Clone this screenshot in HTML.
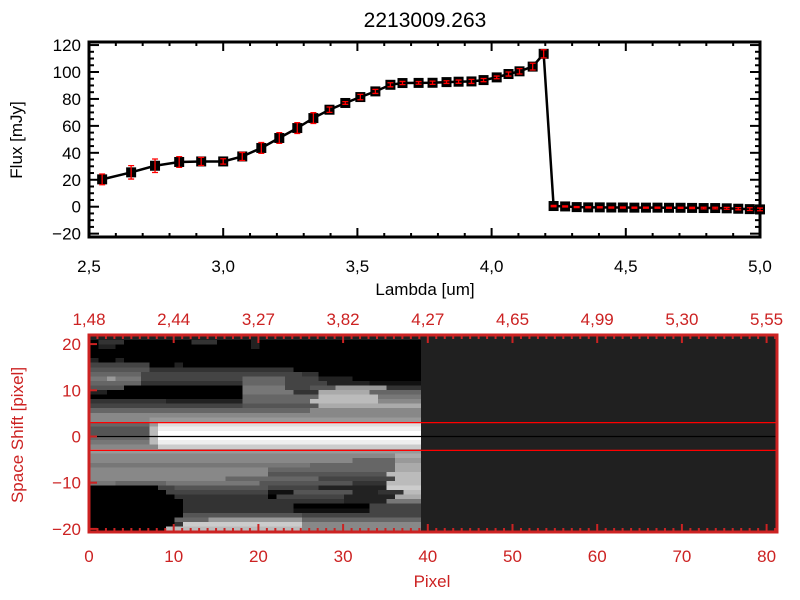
<!DOCTYPE html>
<html><head><meta charset="utf-8"><style>
body{margin:0;background:#fff;}
svg{display:block;font-family:"Liberation Sans",sans-serif;}
</style></head><body>
<svg id="c" width="800" height="600" viewBox="0 0 800 600">
<text x="425" y="27" text-anchor="middle" font-size="21">2213009.263</text>
<g id="top"></g>
<g id="bot"></g>
</svg>
<script>
// ---- spectrum data ----
const lambda = [2.549,2.657,2.746,2.836,2.918,3.0,3.071,3.142,3.209,3.276,3.336,3.396,3.455,3.511,3.567,3.623,
 3.668,3.728,3.78,3.832,3.877,3.925,3.97,4.019,4.063,4.104,4.153,4.194,
 4.231,4.274,4.317,4.36,4.403,4.446,4.489,4.532,4.575,4.618,4.661,4.704,4.747,4.79,4.833,4.876,4.919,4.962,5.0];
const flux = [20.3,25.5,30.4,33.2,33.6,33.6,37.3,43.6,51,58.4,65.8,72,77,81.4,85.6,90.5,
 91.8,91.9,92,92.5,92.8,93,94,96,98.5,100.5,104,113.5,
 0.5,0.2,-0.3,-0.5,-0.5,-0.6,-0.6,-0.7,-0.7,-0.7,-0.8,-0.8,-0.9,-1,-1,-1.2,-1.5,-1.8,-2];
const fluxErr = [4,5,5,4,3,2,3,4,4,4,4,2,1,2,1.5,1.5,
 1.2,1,1.2,1,1.2,1.5,1.2,1,1.5,2,2.5,3,
 0.5,0.4,0.4,0.4,0.4,0.4,0.4,0.4,0.4,0.4,0.4,0.4,0.5,0.6,0.6,0.7,0.8,1,1];
const xTicks = [2.5,3.0,3.5,4.0,4.5,5.0];
const xTickLabels = ["2,5","3,0","3,5","4,0","4,5","5,0"];
const yTicks = [-20,0,20,40,60,80,100,120];
// ---- image data (hex gray levels, run-length "count*level") ----
const imgRows = [
"1*0 3*3 8*0 3*3 4*0 1*2 19*0","1*0 2*2 16*0 1*2 19*0","39*0","39*0","1*2 2*0 1*2 35*0",
"7*4 3*0 1*2 28*0","7*5 13*3 4*3 15*0","6*6 19*4 2*3 12*0","2*7 1*9 3*7 12*4 5*6 4*4 4*2 8*0",
"6*6 12*3 5*6 5*4 5*2 6*1","4*5 14*0 5*7 3*4 3*5 6*9 4*3","2*2 16*0 6*7 3*3 6*a 6*6",
"18*0 9*6 7*b 5*7","9*3 9*2 8*6 8*b 5*8","18*4 9*5 12*a","26*6 13*8","39*8","7*8 32*9",
"7*6 1*9 31*d","7*5 1*b 31*e","7*5 1*b 31*f","7*6 1*b 31*f","7*7 1*b 31*e","8*8 31*c",
"39*9","36*8 3*a","31*8 5*6 3*9","26*7 10*6 3*a","21*8 15*6 3*a","21*8 14*5 4*b",
"16*8 11*6 9*4 3*b","3*7 6*6 11*7 11*5 4*3 4*b","8*0 2*4 11*5 6*4 8*2 4*c",
"9*0 12*4 3*1 7*5 3*2 3*3 2*b","10*0 11*3 1*0 8*4 6*2 3*a","11*0 19*3 5*2 4*7",
"11*0 13*3 9*0 6*4","11*0 13*3 9*1 6*4","11*0 14*5 14*4","10*0 4*6 11*9 14*6",
"10*0 1*3 14*c 14*8","9*0 16*b 14*8"];
const pixTicks = [0,10,20,30,40,50,60,70,80];
const lamTopLabels = ["1,48","2,44","3,27","3,82","4,27","4,65","4,99","5,30","5,55"];
const shiftTicks = [-20,-10,0,10,20];
const apertureLines = [3,-3];

const NS="http://www.w3.org/2000/svg";
function mk(parent,tag,attrs,txt){const e=document.createElementNS(NS,tag);for(const k in attrs)e.setAttribute(k,attrs[k]);if(txt!==undefined)e.textContent=txt;parent.appendChild(e);return e;}

// ---- top plot ----
const T=document.getElementById('top');
const X0=89,X1=760,Y0=42,Y1=237;
const xs=v=>X0+(v-2.5)*(X1-X0)/2.5;
const ys=v=>206.7-v*1.347;
let e;
for(let v=2.5;v<=5.0001;v+=0.1){const big=Math.abs(v*2-Math.round(v*2))<1e-6;const L=big?9:4;
 e=mk(T,'line',{x1:xs(v),x2:xs(v),y1:Y1,y2:Y1-L,stroke:'#000','stroke-width':2});
 
 e=mk(T,'line',{x1:xs(v),x2:xs(v),y1:Y0,y2:Y0+L,stroke:'#000','stroke-width':2});
 }
for(let v=-20;v<=120;v+=5){const big=v%20===0;const L=big?10:5;const y=ys(v);if(y<Y0||y>Y1)continue;
 e=mk(T,'line',{x1:X0,x2:X0+L,y1:y,y2:y,stroke:'#000','stroke-width':2});
 
 e=mk(T,'line',{x1:X1,x2:X1-L,y1:y,y2:y,stroke:'#000','stroke-width':2});
 }
xTicks.forEach((v,i)=>{e=mk(T,'text',{x:xs(v),y:272,'text-anchor':'middle','font-size':17},xTickLabels[i]);
 });
yTicks.forEach(v=>{e=mk(T,'text',{x:81,y:ys(v)+6,'text-anchor':'end','font-size':17},String(v).replace('-','\u2212'));
 });
e=mk(T,'text',{x:425,y:295,'text-anchor':'middle','font-size':17},'Lambda [um]');

e=mk(T,'text',{x:0,y:0,'text-anchor':'middle','font-size':17,transform:'translate(22,140) rotate(-90)'},'Flux [mJy]');

e=mk(T,'rect',{x:X0,y:Y0,width:X1-X0,height:Y1-Y0,fill:'none',stroke:'#000','stroke-width':3});

e=mk(T,'polyline',{points:lambda.map((l,i)=>xs(l)+','+ys(flux[i])).join(' '),fill:'none',stroke:'#000','stroke-width':2.5});

lambda.forEach((l,i)=>{const x=xs(l),y=ys(flux[i]);
 e=mk(T,'rect',{x:x-5,y:y-5,width:10,height:10,fill:'#000'});
 
 const a=ys(flux[i]+fluxErr[i]),b=ys(flux[i]-fluxErr[i]);
 e=mk(T,'path',{d:`M${x},${a}V${b}M${x-3},${a}H${x+3}M${x-3},${b}H${x+3}`,stroke:'#f00','stroke-width':1.3,fill:'none'});
 });

// ---- bottom panel ----
const B=document.getElementById('bot');
const RED='#cc2222';
const PX0=89,PX1=777,PY0=335,PY1=532;
const px=v=>89+v*8.47;
const sy=v=>436.5-v*4.62;
e=mk(B,'rect',{x:PX0,y:PY0,width:PX1-PX0,height:PY1-PY0,fill:'#202020'});

const rowH=(531-340)/imgRows.length;
const cells=mk(B,'g',{'shape-rendering':'crispEdges'});


imgRows.forEach((r,ri)=>{let vals=[];r.split(' ').forEach(t=>{const [n,h]=t.split('*');for(let k=0;k<+n;k++)vals.push(parseInt(h,16));});
 vals=vals.slice(0,39);while(vals.length<39)vals.push(vals[vals.length-1]);
 vals.forEach((g,ci)=>{const c=g*17;
  e=mk(cells,'rect',{x:px(ci)+1,y:340+ri*rowH,width:9.2,height:rowH+0.8,fill:`rgb(${c},${c},${c})`});
  });});
apertureLines.forEach(v=>{e=mk(B,'line',{x1:PX0,x2:PX1,y1:sy(v),y2:sy(v),stroke:'#f00','stroke-width':1.3});
 });
e=mk(B,'line',{x1:PX0,x2:PX1,y1:sy(0),y2:sy(0),stroke:'#000','stroke-width':1.3});

for(let v=0;v<=81;v++){const big=v%10===0;const L=big?8:4;
 e=mk(B,'line',{x1:px(v),x2:px(v),y1:PY1,y2:PY1-L,stroke:RED,'stroke-width':2});
 
 e=mk(B,'line',{x1:px(v),x2:px(v),y1:PY0,y2:PY0+L,stroke:RED,'stroke-width':2});
 }
[-20,-10,0,10,20].forEach(v=>{
 e=mk(B,'line',{x1:PX0,x2:PX0+8,y1:sy(v),y2:sy(v),stroke:RED,'stroke-width':2});
 });
e=mk(B,'rect',{x:PX0,y:PY0,width:PX1-PX0,height:PY1-PY0,fill:'none',stroke:RED,'stroke-width':3});

pixTicks.forEach((v,i)=>{
 e=mk(B,'text',{x:px(v),y:562,'text-anchor':'middle','font-size':17,fill:RED},String(v));
 
 e=mk(B,'text',{x:px(v),y:325,'text-anchor':'middle','font-size':17,fill:RED},lamTopLabels[i]);
 });
shiftTicks.forEach(v=>{e=mk(B,'text',{x:81,y:sy(v)+6,'text-anchor':'end','font-size':17,fill:RED},String(v).replace('-','\u2212'));
 });
e=mk(B,'text',{x:432,y:587,'text-anchor':'middle','font-size':17,fill:RED},'Pixel');

e=mk(B,'text',{x:0,y:0,'text-anchor':'middle','font-size':17,fill:RED,transform:'translate(23,435) rotate(-90)'},'Space Shift [pixel]');

</script>
</body></html>
